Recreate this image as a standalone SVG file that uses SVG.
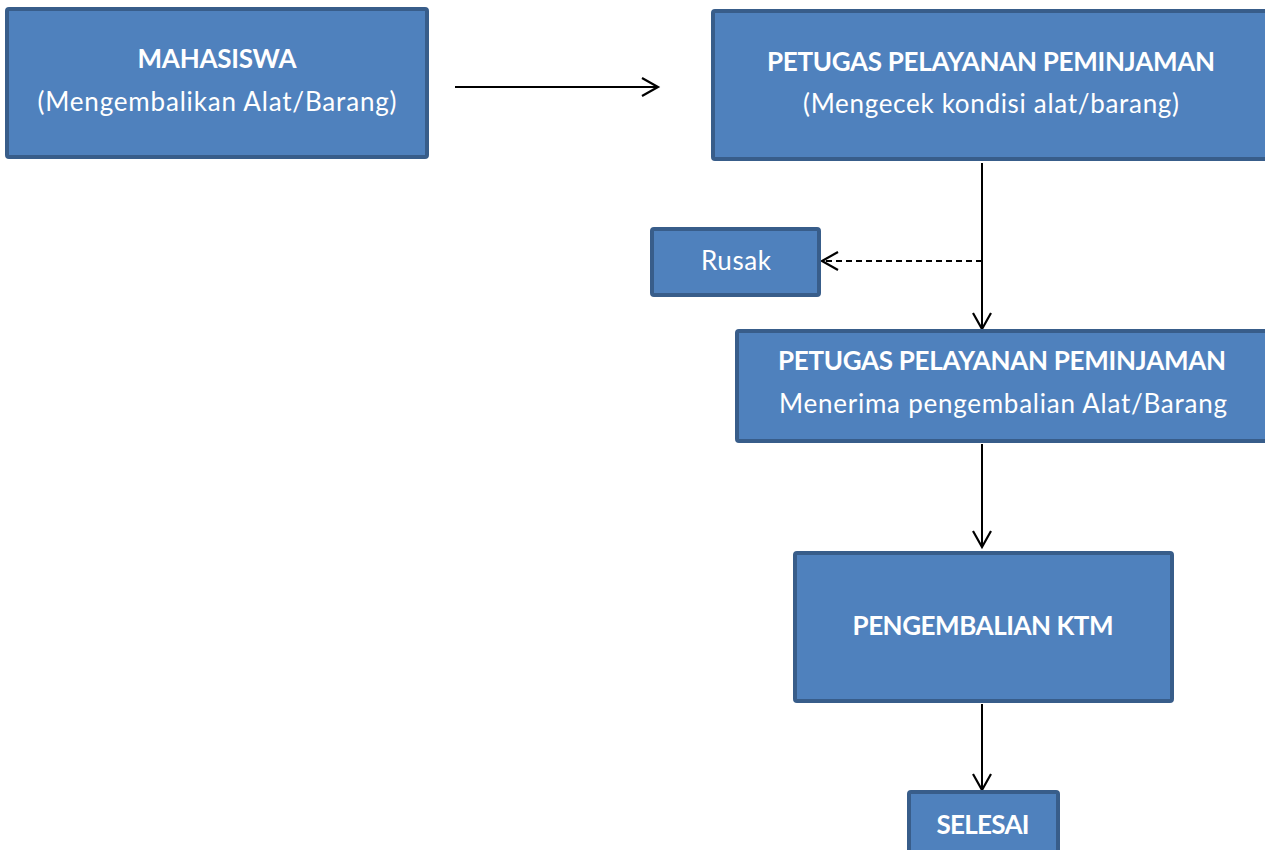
<svg xmlns="http://www.w3.org/2000/svg" width="1265" height="850" viewBox="0 0 1265 850">
<defs>
<marker id="arr" markerUnits="userSpaceOnUse" markerWidth="24" markerHeight="24" viewBox="-20 -12 24 24" refX="0" refY="0" orient="auto">
<path d="M-16,-9 L0,0 L-16,9" fill="none" stroke="#000" stroke-width="2.2"/>
</marker>
</defs>
<style>
.box{fill:#4F81BD;stroke:#385D8A;stroke-width:4;}
.t{font-family:Lato,"Liberation Sans",sans-serif;font-size:26px;fill:#fff;text-anchor:middle;}
.b{font-weight:bold;}
.c{stroke:#000;stroke-width:2;fill:none;}
.d{stroke-dasharray:6 4;}
</style>
<rect width="1265" height="850" fill="#fff"/>
<g id="connectors">
<line class="c" x1="455" y1="87" x2="658" y2="87" marker-end="url(#arr)"/>
<line class="c" x1="982" y1="163" x2="982" y2="329" marker-end="url(#arr)"/>
<line class="c d" x1="982" y1="261" x2="822" y2="261" marker-end="url(#arr)"/>
<line class="c" x1="982" y1="444" x2="982" y2="547" marker-end="url(#arr)"/>
<line class="c" x1="982" y1="704" x2="982" y2="790" marker-end="url(#arr)"/>
</g>
<g id="mahasiswa">
<rect class="box" x="7" y="9" width="420" height="148" rx="2"/>
<text class="t b" x="217" y="68" textLength="159">MAHASISWA</text>
<text class="t" x="217" y="111" textLength="359">(Mengembalikan Alat/Barang)</text>
</g>
<g id="petugas1">
<rect class="box" x="713" y="11" width="560" height="148" rx="2"/>
<text class="t b" x="991" y="71" textLength="448">PETUGAS PELAYANAN PEMINJAMAN</text>
<text class="t" x="991" y="113" textLength="376">(Mengecek kondisi alat/barang)</text>
</g>
<g id="rusak">
<rect class="box" x="652" y="229" width="167" height="66" rx="2"/>
<text class="t" x="736" y="270" textLength="70">Rusak</text>
</g>
<g id="petugas2">
<rect class="box" x="737" y="331" width="540" height="110" rx="2"/>
<text class="t b" x="1002" y="370" textLength="448">PETUGAS PELAYANAN PEMINJAMAN</text>
<text class="t" x="1003" y="413" textLength="448">Menerima pengembalian Alat/Barang</text>
</g>
<g id="ktm">
<rect class="box" x="795" y="553" width="377" height="148" rx="2"/>
<text class="t b" x="983" y="635" textLength="261">PENGEMBALIAN KTM</text>
</g>
<g id="selesai">
<rect class="box" x="909" y="792" width="149" height="70" rx="2"/>
<text class="t b" x="983" y="834" textLength="93">SELESAI</text>
</g>
</svg>
